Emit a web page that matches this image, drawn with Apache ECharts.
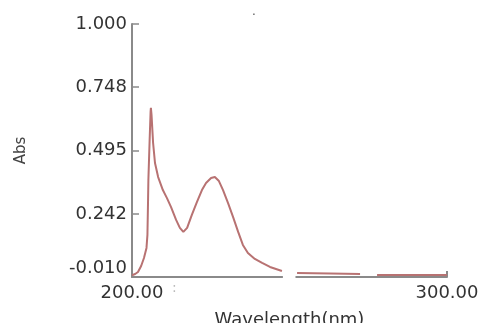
<!DOCTYPE html>
<html>
<head>
<meta charset="utf-8">
<script src="https://cdn.jsdelivr.net/npm/echarts@6/dist/echarts.min.js"></script>
<style>
html,body{margin:0;padding:0;background:#fff;}
#c{width:478px;height:323px;}
</style>
</head>
<body>
<div id="c"></div>
<script>
// Wavelength (nm) and absorbance values (null = gap in trace)
var wavelengths = [200, 201, 201.9, 202.9, 203.8, 204.6, 204.9, 205.1, 205.2, 205.6, 205.9, 206.0, 206.2, 206.7, 207.3, 208.3, 209.8, 211.1, 212.4, 214.0, 215.2, 216.3, 217.5, 219.0, 220.6, 222.2, 223.5, 225.1, 226.3, 227.6, 228.9, 230.5, 232.1, 233.7, 235.2, 236.8, 239.0, 241.3, 243.8, 245.7, 247.6, 250.0, 252.4, 262.9, 272.4, 275.0, 277.8, 300];
var absorbance = [-0.003, 0.002, 0.010, 0.034, 0.066, 0.106, 0.158, 0.297, 0.377, 0.537, 0.649, 0.665, 0.637, 0.525, 0.445, 0.389, 0.337, 0.305, 0.269, 0.218, 0.186, 0.170, 0.186, 0.238, 0.289, 0.337, 0.365, 0.385, 0.389, 0.373, 0.337, 0.285, 0.229, 0.170, 0.118, 0.086, 0.062, 0.046, 0.030, 0.022, 0.014, null, 0.006, 0.004, 0.002, null, -0.002, -0.002];
var yTickLabels = [-0.010, 0.242, 0.495, 0.748, 1.000];
var xTickLabels = [200, 300];
var xTicks = [300];

var data = wavelengths.map(function (w, i) { return [w, absorbance[i]]; });

var chart = echarts.init(document.getElementById('c'));
var axisColor = '#8a8a8a';
chart.setOption({
  animation: false,
  grid: { left: 132, right: 31, top: 24, bottom: 46, containLabel: false, outerBoundsMode: 'none' },
  xAxis: {
    type: 'value', min: 200, max: 300,
    name: 'Wavelength(nm)', nameLocation: 'middle', nameGap: 34,
    nameTextStyle: { fontFamily: 'DejaVu Sans', fontSize: 18, color: '#333' },
    axisLine: { onZero: false, lineStyle: { color: axisColor, width: 2 } },
    axisTick: { show: true, inside: true, length: 6, customValues: xTicks, lineStyle: { color: axisColor, width: 2 } },
    axisLabel: {
      customValues: xTickLabels, margin: 7,
      fontFamily: 'DejaVu Sans', fontSize: 18, color: '#333',
      formatter: function (v) { return v.toFixed(2); }
    },
    splitLine: { show: false }
  },
  yAxis: {
    type: 'value', min: -0.010, max: 1.000,
    name: 'Abs', nameLocation: 'middle', nameGap: 103,
    nameTextStyle: { fontFamily: 'DejaVu Sans', fontSize: 15, color: '#444' },
    axisLine: { show: true, lineStyle: { color: axisColor, width: 2 } },
    axisTick: { show: true, inside: true, length: 7, customValues: yTickLabels, lineStyle: { color: axisColor, width: 1.5 } },
    axisLabel: {
      customValues: yTickLabels, margin: 5,
      fontFamily: 'DejaVu Sans', fontSize: 18, color: '#333',
      formatter: function (v) {
        var s = v.toFixed(3);
        return v < 0 ? '{lo|' + s + '}' : s;
      },
      rich: { lo: { fontFamily: 'DejaVu Sans', fontSize: 18, color: '#333', padding: [0, 0, 18, 0] } }
    },
    splitLine: { show: false }
  },
  series: [{
    type: 'line', data: data, showSymbol: false, connectNulls: false,
    lineStyle: { color: '#b87272', width: 2 },
    z: 3
  }]
});

// white gap over axis line (scan artifact), placed via data coordinates
var p1 = chart.convertToPixel({ gridIndex: 0 }, [247.9, -0.010]);
var p2 = chart.convertToPixel({ gridIndex: 0 }, [251.9, -0.010]);
chart.setOption({
  graphic: [
    { type: 'rect', shape: { x: p1[0], y: p1[1] - 4, width: p2[0] - p1[0], height: 8 }, style: { fill: '#fff' }, z: 100 },
    { type: 'text', left: 172, top: 281, style: { text: ':', fontSize: 14, fill: '#bbb', fontFamily: 'DejaVu Sans' }, z: 100 },
    { type: 'text', left: 252, top: 6, style: { text: '.', fontSize: 12, fill: '#555', fontFamily: 'DejaVu Sans' }, z: 100 }
  ]
});
</script>
</body>
</html>
